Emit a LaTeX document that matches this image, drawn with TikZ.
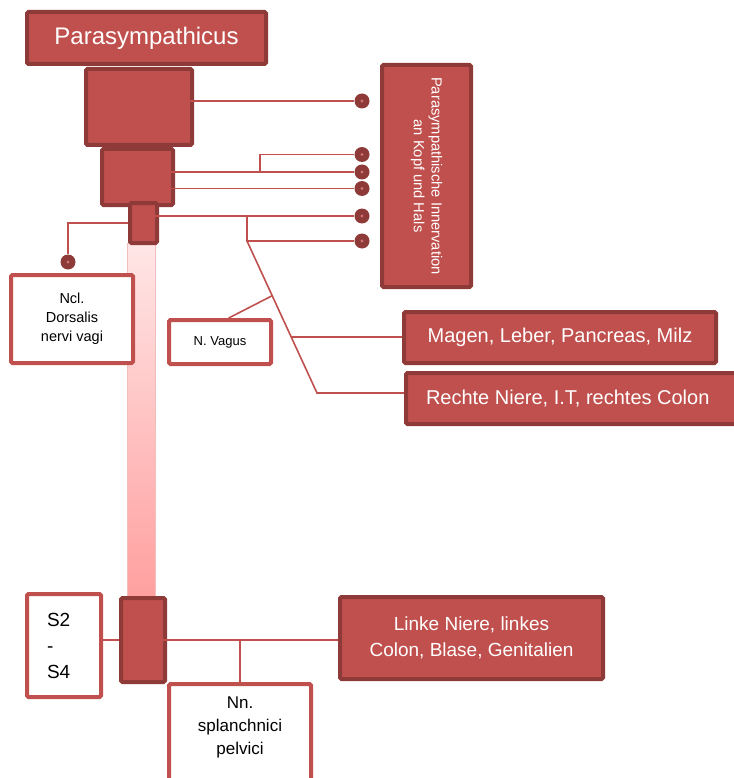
\documentclass[tikz,border=0pt]{standalone}
\usepackage{fontspec}
\setmainfont{Liberation Sans}
\usetikzlibrary{calc}
\definecolor{organ}{HTML}{C0504D}
\definecolor{organdark}{HTML}{8E3A38}
\definecolor{coltop}{HTML}{FFE6E6}
\definecolor{colbot}{HTML}{FF9F9F}
\definecolor{coledge}{HTML}{F2BDBD}

\begin{document}
\begin{tikzpicture}[x=1pt,y=-1pt,
  seg/.style={draw=organdark, fill=organ, line width=4pt, rounded corners=1.5pt, inner sep=0pt},
  organbox/.style={seg, text=white, align=center},
  textbox/.style={draw=organ, fill=white, line width=4pt, rounded corners=1.5pt, inner sep=0pt, align=center},
  nerve/.style={draw=organ, line width=1.6pt},
  knob/.style={circle, fill=organdark, minimum size=15pt, inner sep=0pt,
    path picture={\fill[organ!80!white] (path picture bounding box.center) circle (1.6pt);}}]
\useasboundingbox (0,0) rectangle (733,778);
\shade[top color=coltop, bottom color=colbot] (127,243) rectangle (155,600);
\draw[coledge, line width=1pt] (127,243) rectangle (155,600);
\node[organbox, minimum width=239pt, minimum height=52pt, font=\fontsize{24}{28}\selectfont] (title) at (146.5,38) {Parasympathicus};
\node[seg, minimum width=106pt, minimum height=76pt] (seg1) at (139,107) {};
\node[seg, minimum width=71pt, minimum height=56pt] (seg2) at (137.5,177) {};
\node[seg, minimum width=27pt, minimum height=40pt] (seg3) at (143.5,223) {};
\node[seg, minimum width=44pt, minimum height=84pt] (sacral) at (143,640) {};
\node[organbox, rotate=-90, minimum width=222pt, minimum height=89pt, font=\fontsize{14.7}{17.7}\selectfont] (kopf) at (426.5,176) {Parasympathische Innervation\\an Kopf und Hals};
\node[organbox, minimum width=312pt, minimum height=51pt, font=\fontsize{20}{24}\selectfont] (magen) at (560,337.5) {Magen, Leber, Pancreas, Milz};
\node[organbox, anchor=west, minimum height=51pt, text width=340pt, inner xsep=20pt, align=flush left, font=\fontsize{20}{24}\selectfont] (rechte) at (404,398.5) {Rechte Niere, I.T, rechtes Colon};
\node[organbox, minimum width=263pt, minimum height=82pt, font=\fontsize{19}{26}\selectfont] (linke) at (471.5,638) {Linke Niere, linkes\\Colon, Blase, Genitalien};
\node[textbox, minimum width=122pt, minimum height=88pt, font=\fontsize{14.5}{19}\selectfont] (ncl) at (72,319) {Ncl.\\Dorsalis\\nervi vagi};
\node[textbox, minimum width=102pt, minimum height=44pt, font=\fontsize{13}{16}\selectfont] (vagus) at (220,342) {N. Vagus};
\node[textbox, minimum width=74pt, minimum height=103pt, text width=34pt, inner xsep=20pt, align=flush left, font=\fontsize{19}{26}\selectfont] (sakral) at (64,645.5) {S2\\-\\S4};
\node[textbox, anchor=north, minimum width=142pt, minimum height=100pt, text depth=16pt, font=\fontsize{17}{23}\selectfont] (nn) at (240,682) {Nn.\\splanchnici\\pelvici};

\node[knob] (d1) at (362,101) {};
\node[knob] (d2) at (362,154.5) {};
\node[knob] (d3) at (362,172) {};
\node[knob] (d4) at (362,188.5) {};
\node[knob] (d5) at (362,216) {};
\node[knob] (d6) at (362,241) {};
\node[knob] (dn) at (68,262) {};

\coordinate (j1) at (260,172);
\coordinate (j2) at (247,216);
\coordinate (j4) at (317,393);
\draw[nerve, shorten <=-16pt] (seg1.east |- d1) -- (d1);
\draw[nerve, shorten <=-17pt] (seg2.east |- d3) -- (d3);
\draw[nerve] (j1) |- (d2);
\draw[nerve, shorten <=-18pt] (seg2.east |- d4) -- (d4);
\draw[nerve, shorten <=-22pt] (seg3.east |- d5) -- (d5);
\draw[nerve] (j2) |- (d6);
\draw[nerve] (j2 |- d6) -- (j4) -- (j4 -| rechte.west);
\path (j2 |- d6) -- (j4) coordinate[pos=0.63] (j5) coordinate[pos=0.36] (j6);
\draw[nerve] (j5) -- (j5 -| magen.west);
\draw[nerve] (vagus.70) -- (j6);
\draw[nerve] (seg3.west) -| (dn);
\draw[nerve] (sakral.east |- sacral) -- (sacral.west);
\draw[nerve] (sacral.center) -- (sacral -| linke.west);
\draw[nerve] (nn.north |- sacral) -- (nn.north);
\end{tikzpicture}
\end{document}
